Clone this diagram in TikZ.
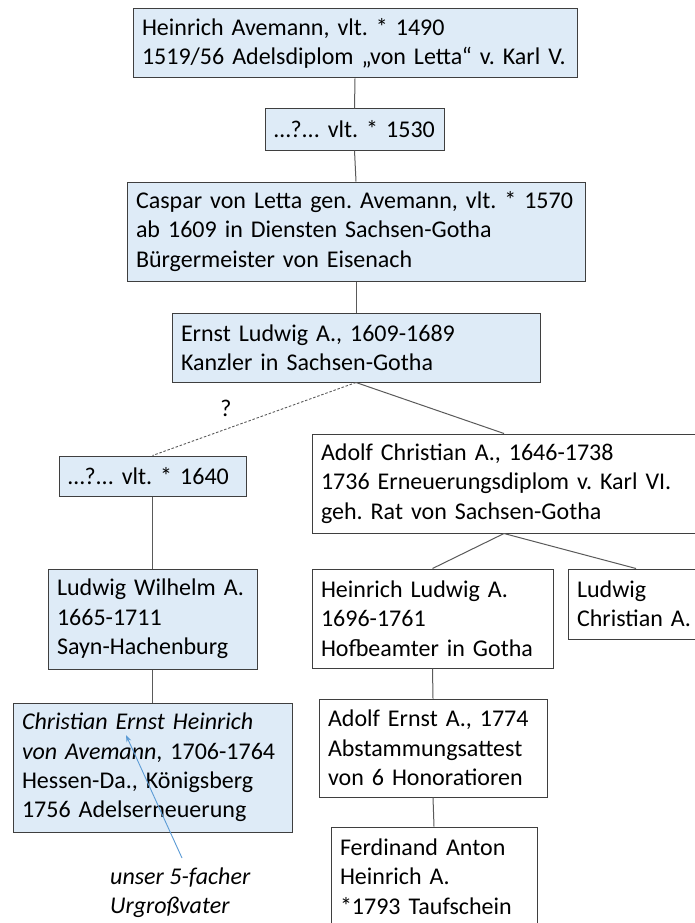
\documentclass[tikz,border=0pt]{standalone}
\usepackage{fontspec}
\setmainfont{Carlito}
\usetikzlibrary{arrows.meta}
\definecolor{boxblue}{HTML}{DEEBF7}
\definecolor{boxline}{HTML}{3F3F3F}
\definecolor{conline}{HTML}{5A5A5A}
\definecolor{annblue}{HTML}{5B9BD5}
\tikzset{
  famnode/.style={draw=boxline, line width=1pt, inner xsep=9pt, inner ysep=0pt,
    align=left, anchor=center, font=\fontsize{24}{29.3}\selectfont\frenchspacing},
  bluebox/.style={famnode, fill=boxblue},
  whitebox/.style={famnode, fill=white},
  conn/.style={draw=conline, line width=1pt},
  dashconn/.style={draw=conline, line width=0.9pt, dash pattern=on 2.5pt off 1.8pt},
  annarrow/.style={draw=annblue, line width=0.9pt, -{Stealth[length=7pt,width=5pt]}},
  anntext/.style={align=left, inner sep=0pt, font=\fontsize{24}{29.3}\selectfont\itshape\frenchspacing}
}
\begin{document}
\frenchspacing
\begin{tikzpicture}[x=1pt,y=-1pt]
\useasboundingbox (0,0) rectangle (694,923);
\fill[white] (0,0) rectangle (694,923);

\node[bluebox, minimum width=444, minimum height=69, text width=426] (b1) at (355,43.5)
  {Heinrich Avemann, vlt. * 1490\\1519/56 Adelsdiplom „von Letta“ v. Karl V.};
\node[bluebox, minimum width=179, minimum height=41, text width=161] (b2) at (354.5,129.5)
  {…?... vlt. * 1530};
\node[bluebox, minimum width=458, minimum height=99, text width=440] (b3) at (356,231.5)
  {Caspar von Letta gen. Avemann, vlt. * 1570\\ab 1609 in Diensten Sachsen-Gotha\\Bürgermeister von Eisenach};
\node[bluebox, minimum width=368, minimum height=69, text width=350] (b4) at (356,347.5)
  {Ernst Ludwig A., 1609-1689\\Kanzler in Sachsen-Gotha};
\node[bluebox, minimum width=187, minimum height=40, text width=169] (b5) at (152.5,476)
  {…?... vlt. * 1640};
\node[whitebox, minimum width=384, minimum height=99, text width=366] (b6) at (504,483.5)
  {Adolf Christian A., 1646-1738\\1736 Erneuerungsdiplom v. Karl VI.\\geh. Rat von Sachsen-Gotha};
\node[bluebox, minimum width=209, minimum height=100, text width=191] (b7) at (152.5,619)
  {Ludwig Wilhelm A.\\1665-1711\\Sayn-Hachenburg};
\node[whitebox, minimum width=241, minimum height=99, text width=223] (b8) at (432.5,618.5)
  {Heinrich Ludwig A.\\1696-1761\\Hofbeamter in Gotha};
\node[whitebox, minimum width=136, minimum height=70, text width=118] (b9) at (636,604)
  {Ludwig\\Christian A.};
\node[bluebox, minimum width=279, minimum height=129, text width=261] (b10) at (152.5,767.5)
  {\textit{Christian Ernst Heinrich}\\\textit{von Avemann}, 1706-1764\\Hessen-Da., Königsberg\\1756 Adelserneuerung};
\node[whitebox, minimum width=228, minimum height=98, text width=210] (b11) at (433,748)
  {Adolf Ernst A., 1774\\Abstammungsattest\\von 6 Honoratioren};
\node[whitebox, minimum width=206, minimum height=99, text width=188] (b12) at (434,876.5)
  {Ferdinand Anton\\Heinrich A.\\{}*1793 Taufschein};

\draw[conn] (b1.south) -- (b2.north);
\draw[conn] (b2.south) -- (b3.north);
\draw[conn] (b3.south) -- (b4.north);
\draw[dashconn] (b4.south) -- (b5.north);
\node[font=\fontsize{24}{29.3}\selectfont, inner sep=0pt] (q) at (226,408) {?};
\draw[conn] (b4.south) -- (b6.north);
\draw[conn] (b5.south) -- (b7.north);
\draw[conn] (b6.south) -- (b8.north);
\draw[conn] (b6.south) -- (b9.north);
\draw[conn] (b7.south) -- (b10.north);
\draw[conn] (b8.south) -- (b11.north);
\draw[conn] (b11.south) -- (b12.north);

\node[anntext, anchor=west] (ann) at (110,893) {unser 5-facher\\Urgroßvater};
\coordinate (arrS) at (182,858);
\coordinate (arrT) at (126,735);
\draw[annarrow] (arrS) -- (arrT);
\end{tikzpicture}
\end{document}
